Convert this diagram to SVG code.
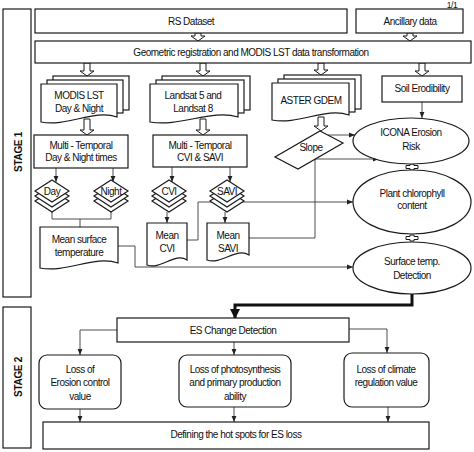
<svg xmlns="http://www.w3.org/2000/svg" width="474" height="452" viewBox="0 0 474 452">
<style>
.b{fill:#fff;stroke:#1a1a1a;stroke-width:1.2}
.c{fill:none;stroke:#3a3a3a;stroke-width:0.9}
.h{fill:#fff;stroke:#1a1a1a;stroke-width:1}
.t{fill:none;stroke:#111;stroke-width:3}
text{font-family:"Liberation Sans",Arial,sans-serif;font-size:10px;letter-spacing:-0.5px;fill:#111;text-anchor:middle}
.s{font-weight:bold;letter-spacing:-0.3px}
</style>
<defs>
<marker id="ar" viewBox="0 0 10 10" refX="10" refY="5" markerWidth="6" markerHeight="6" markerUnits="userSpaceOnUse" orient="auto"><path d="M0,1 L10,5 L0,9 z" fill="#222"/></marker>
<marker id="arT" viewBox="0 0 10 10" refX="9" refY="5" markerWidth="10" markerHeight="10" markerUnits="userSpaceOnUse" orient="auto"><path d="M0,0 L10,5 L0,10 z" fill="#111"/></marker>
</defs>
<rect width="474" height="452" fill="#fff"/>
<text x="452" y="8" style="font-size:8.5px">1/1</text>

<g id="connectors">
<polygon class="h" points="195,33 201,33 201,36 205,36 198,41 191,36 195,36"/>
<polygon class="h" points="407,33 413,33 413,36 417,36 410,41 403,36 407,36"/>
<polygon class="h" points="84,63 90,63 90,71 94,71 87,76 80,71 84,71"/>
<polygon class="h" points="200,63 206,63 206,71 210,71 203,76 196,71 200,71"/>
<polygon class="h" points="318,63 324,63 324,70 328,70 321,75 314,70 318,70"/>
<polygon class="h" points="419,63 425,63 425,71 429,71 422,76 415,71 419,71"/>
<polygon class="h" points="84,119 90,119 90,130 94,130 87,135 80,130 84,130"/>
<polygon class="h" points="200,119 206,119 206,130 210,130 203,135 196,130 200,130"/>
<polygon class="h" points="318,117 324,117 324,126 328,126 321,131 314,126 318,126"/>
<path class="c" d="M422,102 V118" marker-end="url(#ar)"/>
<path class="c" d="M328,135 H355" marker-end="url(#ar)"/>
<path class="c" d="M249,238 H315 V159 H379" marker-end="url(#ar)"/>
<path class="c" d="M187,240 H198 V202 H353" marker-end="url(#ar)"/>
<path class="c" d="M118,246 H135 V267 H353" marker-end="url(#ar)"/>
<path class="c" d="M56,168 V182" marker-end="url(#ar)"/>
<path class="c" d="M113,168 V182" marker-end="url(#ar)"/>
<path class="c" d="M172,167 V182" marker-end="url(#ar)"/>
<path class="c" d="M230,167 V182" marker-end="url(#ar)"/>
<path class="c" d="M167,212 V223" marker-end="url(#ar)"/>
<path class="c" d="M225,212 V223" marker-end="url(#ar)"/>
<path class="c" d="M52,212 V219 H111 V212 M80,219 V227"/>
<polygon class="h" points="410,164 414,164 414,165.5 418,165.5 418,168.5 414,168.5 414,170 410,170 410,168.5 406,168.5 406,165.5 410,165.5"/>
<polygon class="h" points="410,235 414,235 414,236.5 418,236.5 418,239.5 414,239.5 414,241 410,241 410,239.5 406,239.5 406,236.5 410,236.5"/>
<path class="t" d="M412,294 V305 H235 V318" marker-end="url(#arT)"/>
<path class="c" d="M117,330 H80 V355" marker-end="url(#ar)"/>
<path class="c" d="M234,342 V355" marker-end="url(#ar)"/>
<path class="c" d="M349,329 H387 V353" marker-end="url(#ar)"/>
<path class="c" d="M80,409 V422" marker-end="url(#ar)"/>
<path class="c" d="M234,407 V422" marker-end="url(#ar)"/>
<path class="c" d="M388,407 V422" marker-end="url(#ar)"/>
</g>

<g id="stage1"><rect class="b" x="3" y="9" width="28" height="288"/><text class="s" transform="translate(22,152) rotate(-90)">STAGE 1</text></g>
<g id="stage2"><rect class="b" x="3" y="307" width="28" height="141"/><text class="s" transform="translate(22,377) rotate(-90)">STAGE 2</text></g>

<g id="rs-dataset"><rect class="b" x="35" y="9" width="312" height="24"/><text x="191" y="25">RS Dataset</text></g>
<g id="ancillary"><rect class="b" x="356" y="9" width="107" height="24"/><text x="410" y="25">Ancillary data</text></g>
<g id="geometric"><rect class="b" x="35" y="41" width="436" height="22"/><text x="251" y="56">Geometric registration and MODIS LST data transformation</text></g>

<g id="modis">
<rect class="b" x="53" y="76" width="76" height="34"/>
<rect class="b" x="47" y="80" width="76" height="33"/>
<path class="b" d="M41,84 H117 V117 C94.2,109 67.6,127 41,122 Z"/>
<text x="79" y="98.5">MODIS LST</text><text x="79" y="112">Day &amp; Night</text>
</g>
<g id="landsat">
<rect class="b" x="162" y="76" width="88" height="34"/>
<rect class="b" x="156" y="80" width="88" height="33"/>
<path class="b" d="M150,84 H238 V117 C211.6,109 180.8,127 150,122 Z"/>
<text x="193" y="98.5">Landsat 5 and</text><text x="193" y="112">Landsat 8</text>
</g>
<g id="aster">
<rect class="b" x="284" y="75" width="77" height="34"/>
<rect class="b" x="278" y="79" width="77" height="33"/>
<path class="b" d="M272,83 H349 V115 C325.9,107 298.95,125 272,120 Z"/>
<text x="311" y="103.5">ASTER GDEM</text>
</g>
<g id="soil"><rect class="b" x="382" y="76" width="80" height="26"/><text x="422" y="91.5">Soil Erodibility</text></g>

<g id="mt-daynight"><rect class="b" x="34" y="135" width="94" height="33"/><text x="81" y="148.5">Multi - Temporal</text><text x="81" y="161">Day &amp; Night times</text></g>
<g id="mt-cvi-savi"><rect class="b" x="153" y="135" width="94" height="32"/><text x="200" y="148.5">Multi - Temporal</text><text x="200" y="161">CVI &amp; SAVI</text></g>

<g id="slope"><polygon class="b" points="320,131 343,143 298,169 275,157"/><text x="311" y="151">Slope</text></g>

<g id="day">
<polygon class="b" points="52,190 69,201 52,212 35,201"/>
<polygon class="b" points="52,185 69,196 52,207 35,196"/>
<polygon class="b" points="52,180 69,191 52,202 35,191"/>
<text x="52" y="195">Day</text>
</g>
<g id="night">
<polygon class="b" points="111,190 128,201 111,212 94,201"/>
<polygon class="b" points="111,185 128,196 111,207 94,196"/>
<polygon class="b" points="111,180 128,191 111,202 94,191"/>
<text x="111" y="195">Night</text>
</g>
<g id="cvi">
<polygon class="b" points="169,190 186,201 169,212 152,201"/>
<polygon class="b" points="169,185 186,196 169,207 152,196"/>
<polygon class="b" points="169,180 186,191 169,202 152,191"/>
<text x="169" y="194.5">CVI</text>
</g>
<g id="savi">
<polygon class="b" points="227,190 244,201 227,212 210,201"/>
<polygon class="b" points="227,185 244,196 227,207 210,196"/>
<polygon class="b" points="227,180 244,191 227,202 210,191"/>
<text x="227" y="194.5">SAVI</text>
</g>

<g id="mean-surface"><path class="b" d="M40,227 H118 V263 C94.6,255 67.3,273 40,268 Z"/><text x="79" y="242.5">Mean surface</text><text x="79" y="255.5">temperature</text></g>
<g id="mean-cvi"><path class="b" d="M147,223 H187 V260 C175,252 161,270 147,265 Z"/><text x="167" y="238.5">Mean</text><text x="167" y="252">CVI</text></g>
<g id="mean-savi"><path class="b" d="M207,223 H249 V255 C236.4,247 221.7,265 207,260 Z"/><text x="228" y="238.5">Mean</text><text x="228" y="252">SAVI</text></g>

<g id="icona"><ellipse class="b" cx="411" cy="141" rx="58" ry="23"/><text x="411" y="135.5">ICONA Erosion</text><text x="411" y="149.5">Risk</text></g>
<g id="plant"><ellipse class="b" cx="412" cy="202" rx="59" ry="32"/><text x="412" y="196.5">Plant chlorophyll</text><text x="412" y="209">content</text></g>
<g id="surface"><ellipse class="b" cx="412" cy="268" rx="59" ry="26"/><text x="412" y="265">Surface temp.</text><text x="412" y="278.5">Detection</text></g>

<g id="es-change"><rect class="b" x="117" y="318" width="232" height="24"/><text x="233" y="333.5">ES Change Detection</text></g>
<g id="loss-erosion"><rect class="b" x="39" y="355" width="82" height="54" rx="8"/><text x="80" y="372.5">Loss of</text><text x="80" y="386">Erosion control</text><text x="80" y="399.5">value</text></g>
<g id="loss-photo"><rect class="b" x="179" y="355" width="112" height="52" rx="8"/><text x="235" y="372.5">Loss of photosynthesis</text><text x="235" y="386">and primary production</text><text x="235" y="399.5">ability</text></g>
<g id="loss-climate"><rect class="b" x="344" y="353" width="85" height="54" rx="8"/><text x="386" y="372.5">Loss of climate</text><text x="386" y="386">regulation value</text></g>
<g id="hotspots"><rect class="b" x="43" y="422" width="386" height="27"/><text x="236" y="437.5">Defining the hot spots for ES loss</text></g>
</svg>
